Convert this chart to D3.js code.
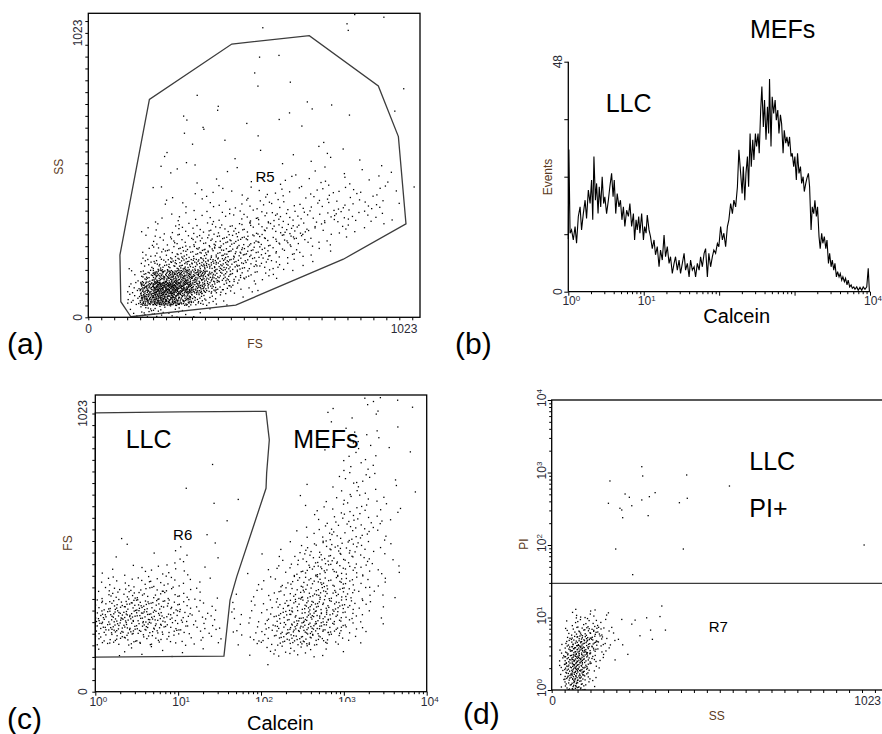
<!DOCTYPE html>
<html>
<head>
<meta charset="utf-8">
<script src="https://cdn.jsdelivr.net/npm/d3@7"></script>
<style>
body { margin: 0; background: #fff; }
svg { display: block; font-family: "Liberation Sans", Arial, sans-serif; }
</style>
</head>
<body>
<svg id="fig" width="882" height="734"></svg>
<script>
// flow cytometry figure, 4 panels (a)-(d)

var FULL = 1023;
var step = FULL / 24; // one tick of the 0..1023 channel axes

// (a) FS vs SS, event counts per bin: [first column, counts...], one row per tick of SS
var fsSsRows = [
    [3, [3, 12, 10, 6, 4, 2, 1]],
    [3, [10, 60, 80, 70, 45, 20, 8, 3, 1]],
    [3, [8, 50, 90, 95, 75, 45, 25, 12, 5, 3, 1]],
    [3, [3, 20, 45, 55, 55, 45, 30, 20, 12, 7, 4, 2, 1]],
    [3, [1, 8, 15, 18, 25, 25, 25, 22, 16, 10, 8, 5, 3, 1, 1]],
    [4, [4, 8, 10, 12, 14, 15, 16, 14, 12, 9, 6, 5, 3, 2, 1]],
    [4, [2, 5, 7, 6, 8, 10, 11, 11, 10, 9, 7, 8, 6, 3, 2, 1]],
    [4, [2, 3, 3, 4, 5, 6, 6, 8, 6, 7, 7, 7, 6, 4, 3, 3, 2, 1, 1]],
    [5, [2, 2, 2, 2, 3, 4, 3, 5, 6, 6, 5, 4, 4, 4, 5, 4, 3, 2, 1]],
    [5, [1, 1, 2, 2, 2, 3, 2, 3, 4, 3, 3, 2, 3, 4, 4, 3, 3, 3, 1]],
    [5, [1, 1, 0, 2, 2, 1, 2, 2, 3, 2, 2, 2, 3, 3, 2, 3, 2, 2, 1, 0, 1]],
    [5, [1, 0, 0, 1, 1, 1, 0, 1, 1, 1, 2, 1, 2, 2, 1, 1, 1, 2, 1]],
    [5, [1, 2, 0, 1, 0, 1, 1, 0, 0, 1, 0, 1, 1, 1, 1, 0, 1, 1, 1]],
    [5, [1, 1, 1, 0, 0, 0, 1, 0, 0, 0, 1, 0, 1, 2, 0, 1]],
    [8, [1, 0, 1, 0, 0, 1, 0, 0, 0, 1, 1, 1]],
    [7, [1, 1, 0, 0, 0, 0, 1]],
    [7, [2, 1, 0, 0, 0, 1, 0, 1, 0, 1]],
    [9, [1, 1, 0, 0, 0, 0, 1, 0, 1, 1, 0, 1, 0, 0, 1]],
    [8, [1, 0, 0, 0, 0, 0, 0, 0, 1]],
    [13, [1, 0, 1, 0, 0, 0, 0, 0, 0, 0, 0, 1]],
    [12, [1]],
    [13, [1]],
    [14, [1]],
    [0, []],
    [13, [1, 0, 0, 0, 0, 0, 1, 1]],
    [20, [1, 1, 1]]
];
var r5Gate = [[140, 2], [107, 56], [104, 224], [201, 784], [472, 983], [727, 1013],
    [954, 832], [1020, 650], [1045, 336], [839, 209], [485, 44]];

// (b) Calcein histogram: [channel 0..1023 over 4 decades, events]
var calceinHist = [
    [0, 11], [2, 29.7], [6, 12.2], [11, 12.9], [17, 10.8], [23, 13.6], [28, 10.1], [34, 15.7],
    [40, 17.7], [45, 12.9], [51, 16.3], [57, 19.1], [62, 15.3], [68, 21.2], [74, 18.4], [79, 23.3],
    [83, 15], [87, 28.2], [92, 19.1], [96, 22.6], [101, 16.3], [105, 21.9], [110, 17.7], [115, 24],
    [120, 18.4], [124, 19.8], [130, 16.3], [136, 19.1], [141, 21.9], [147, 24.7], [152, 19.8],
    [156, 23.3], [161, 16.3], [166, 20.5], [172, 17.7], [177, 19.1], [182, 15], [187, 17.7],
    [192, 13.6], [198, 17], [204, 15.7], [209, 18.4], [215, 13.6], [221, 16.3], [225, 10.8],
    [230, 15], [234, 12.9], [239, 15.7], [243, 12.2], [249, 16.3], [255, 10.8], [259, 13.6],
    [264, 12.2], [268, 16], [274, 12.9], [279, 11.5], [285, 9], [291, 10.8], [296, 7.7], [302, 9.4],
    [308, 5.2], [313, 8.7], [319, 6.6], [325, 11.8], [330, 7.3], [336, 9.4], [342, 5.9], [347, 7.3],
    [353, 3.8], [359, 5.9], [364, 7.3], [370, 4.5], [376, 6.6], [381, 3.8], [387, 5.9], [393, 8],
    [398, 4.5], [404, 5.9], [410, 3.1], [415, 6.6], [421, 4.5], [427, 5.2], [432, 3.1], [438, 5.9],
    [444, 4.5], [449, 7.3], [455, 5.2], [461, 8], [466, 9], [472, 3.1], [477, 8], [483, 5.2],
    [489, 7.3], [494, 8.7], [500, 8], [506, 10.1], [511, 9.4], [517, 13.6], [523, 10.8], [528, 12.2],
    [534, 9.4], [540, 13.6], [545, 15], [551, 18.4], [557, 16.3], [562, 19.1], [568, 17.7],
    [574, 21.9], [579, 29.6], [585, 24.7], [590, 20.5], [594, 26.1], [599, 19.1], [603, 24.7],
    [608, 28.2], [612, 21.9], [617, 33], [621, 26.1], [626, 31.7], [630, 27.5], [635, 33], [639, 30.3],
    [644, 33], [648, 28.9], [653, 37.9], [657, 42.8], [662, 34.4], [666, 40], [671, 31.7], [676, 38.6],
    [680, 33], [683, 44.4], [688, 30.3], [692, 40.7], [697, 37.2], [702, 40], [706, 35.8], [711, 37.9],
    [715, 33], [720, 36.9], [724, 35.1], [729, 28.9], [733, 33.7], [738, 31], [742, 32.3], [747, 30.3],
    [751, 32.3], [756, 28.2], [760, 28.9], [765, 26.1], [769, 28.2], [774, 23.3], [778, 28.9],
    [783, 24.7], [788, 26.1], [792, 22.6], [797, 24], [801, 20.9], [806, 22.6], [810, 23.7],
    [815, 24.7], [819, 21.9], [824, 12.9], [828, 17.7], [833, 16.3], [837, 19.1], [842, 15.7],
    [846, 17.7], [851, 11.5], [855, 9], [860, 12.2], [864, 10.1], [869, 11.5], [874, 9], [878, 10.8],
    [883, 5.9], [887, 8], [892, 5.2], [896, 6.6], [901, 4.5], [905, 5.9], [910, 3.1], [914, 4.2],
    [919, 3.1], [923, 3.8], [928, 2.4], [932, 3.1], [937, 2.1], [941, 2.8], [946, 1.4], [950, 2.4],
    [955, 1], [960, 1.4], [964, 0.7], [969, 1], [973, 0.5], [979, 1], [984, 0.3], [990, 0.9],
    [996, 0.3], [1001, 1], [1007, 0.5], [1013, 1], [1018, 4.9], [1022, 0]
];
var eventTicks = [0, 12, 24, 36, 48];
var histDecadeLabels = [0, 1, 4]; // 10^2 and 10^3 sit under the Calcein title

// (c) Calcein vs FS, counts per bin: columns are 1/6 decade, rows one FS tick
var calceinFsRows = [
    [0, []],
    [0, []],
    [12, [1]],
    [0, [1, 1, 2, 1, 2, 1, 1, 1, 0, 0, 0, 1, 3, 4, 5, 4, 2, 1]],
    [0, [8, 10, 9, 8, 7, 5, 4, 3, 2, 1, 2, 4, 6, 10, 14, 14, 10, 5, 2, 1]],
    [0, [14, 16, 16, 15, 13, 9, 7, 5, 3, 2, 2, 3, 6, 12, 16, 18, 16, 10, 5, 2, 1]],
    [0, [14, 18, 18, 17, 15, 10, 7, 5, 3, 1, 2, 3, 5, 10, 14, 16, 15, 11, 6, 3, 1]],
    [0, [8, 12, 14, 14, 12, 9, 6, 4, 2, 1, 1, 2, 4, 7, 11, 14, 14, 11, 7, 4, 1]],
    [0, [4, 7, 8, 8, 8, 6, 4, 2, 1, 0, 1, 2, 3, 5, 8, 11, 12, 10, 7, 4, 2, 1]],
    [0, [2, 3, 4, 5, 5, 5, 3, 1, 1, 0, 0, 1, 2, 4, 6, 9, 10, 9, 6, 4, 2, 1]],
    [0, [1, 1, 2, 2, 3, 3, 2, 1, 0, 0, 0, 1, 1, 3, 5, 8, 9, 8, 6, 4, 2, 1, 1]],
    [1, [1, 0, 0, 1, 1, 3, 0, 1, 0, 0, 0, 1, 2, 4, 6, 8, 8, 6, 4, 2, 1]],
    [2, [1, 0, 0, 1, 1, 0, 1, 0, 0, 0, 0, 1, 2, 4, 6, 7, 6, 4, 2, 1]],
    [1, [1, 0, 0, 0, 0, 0, 0, 1, 0, 0, 0, 0, 0, 1, 2, 4, 5, 5, 4, 2, 1]],
    [9, [1, 0, 0, 0, 0, 0, 1, 3, 4, 5, 4, 3, 1]],
    [15, [1, 2, 3, 4, 4, 2, 1, 1]],
    [8, [1, 0, 1, 0, 0, 0, 1, 1, 1, 2, 3, 3, 2, 1]],
    [6, [1, 0, 0, 0, 0, 0, 0, 0, 0, 1, 0, 2, 3, 2, 1, 1, 0, 1]],
    [17, [1, 3, 3, 1, 1]],
    [8, [1, 0, 0, 0, 0, 0, 0, 0, 0, 1, 2, 2, 1]],
    [16, [1, 0, 2, 2, 1, 0, 1]],
    [17, [1, 2, 2, 1, 1]],
    [18, [2, 1, 1, 1]],
    [17, [1, 1, 0, 1]],
    [16, [1, 1, 0, 1, 1, 0, 1]],
    [19, [3, 3, 2]]
];
var r6Gate = [[1, 1025], [10.5, 1029], [115, 1031], [122, 962], [126, 926], [117, 804],
    [115, 748], [51, 423], [42.3, 337], [35.7, 131], [6, 129], [1, 127]];

// (d) SS vs PI: dense core per bin (columns half an SS tick, rows 1/8 decade), plus single events
var ssPiRows = [
    [1, [1, 8, 14, 10, 3, 1]],
    [1, [2, 12, 18, 14, 6, 2]],
    [1, [4, 12, 18, 16, 9, 3, 1]],
    [1, [3, 12, 18, 18, 11, 5, 2, 1]],
    [1, [2, 9, 16, 18, 13, 8, 3, 2, 1]],
    [1, [1, 5, 10, 13, 12, 9, 6, 2, 1]],
    [2, [3, 5, 7, 8, 7, 5, 2, 1]],
    [2, [1, 3, 3, 4, 3, 2, 1]],
    [3, [3, 1, 1, 2]]
];
var ssPiSingles = [
    [192, 764], [297, 1202], [300, 895], [445, 924], [586, 651], [242, 505], [256, 455],
    [187, 376], [225, 321], [231, 304], [234, 238], [264, 348], [297, 418], [322, 464],
    [341, 527], [421, 383], [447, 441], [318, 254], [211, 88], [434, 88], [267, 39], [1030, 100],
    [143, 12.7], [181, 10.8], [187, 11.6], [231, 9.4], [275, 9.2], [264, 8.1], [313, 9.9],
    [357, 10.3], [363, 14.4], [375, 6.7], [326, 6.7], [332, 5.0], [291, 5.6], [198, 7.3],
    [234, 4.2], [220, 5.0], [209, 2.6], [251, 3.1]
];
var r7Cut = 29.6;

var decades = [0, 1, 2, 3, 4];

var svg = d3.select('#fig');
var small = 12, big = 25, tag = 30;
var ink = '#000', gateInk = '#3c3c3c', labelInk = '#2a2a35', titleInk = '#5a3a22';

svg.append('rect').attr('width', 882).attr('height', 734).attr('fill', '#fff');

// deterministic spread of a bin's events over the bin
function halton(i, b) {
    var f = 1, r = 0;
    while (i > 0) {
        f /= b;
        r += f * (i % b);
        i = Math.floor(i / b);
    }
    return r;
}

function binDots(rows, colVal, rowVal) {
    var pts = [], k = 0;
    rows.forEach(function(row, j) {
        var start = row[0];
        row[1].forEach(function(n, c) {
            for (var m = 0; m < n; m++) {
                k += 1;
                pts.push([colVal(start + c + halton(k, 2)), rowVal(j + halton(k, 3))]);
            }
        });
    });
    return pts;
}

function drawDots(g, pts, x, y, clipId) {
    g.append('g')
        .attr('clip-path', 'url(#' + clipId + ')')
        .selectAll('rect').data(pts)
        .enter().append('rect')
            .attr('x', d => x(d[0]) - 0.65)
            .attr('y', d => y(d[1]) - 0.65)
            .attr('width', 1.3)
            .attr('height', 1.3)
            .attr('fill', ink);
}

function addClip(id, x0, y0, x1, y1) {
    svg.append('clipPath').attr('id', id)
        .append('rect')
            .attr('x', x0).attr('y', y0)
            .attr('width', x1 - x0).attr('height', y1 - y0);
}

function frame(g, x0, y0, x1, y1) {
    g.append('rect')
        .attr('x', x0).attr('y', y0)
        .attr('width', x1 - x0).attr('height', y1 - y0)
        .attr('fill', 'none')
        .attr('stroke', ink)
        .attr('stroke-width', 1.3);
}

function tickAxis(g, axis, tx, ty) {
    var a = g.append('g')
        .attr('transform', 'translate(' + tx + ',' + ty + ')')
        .call(axis);
    a.select('.domain').remove();
    a.selectAll('line').attr('stroke', ink);
    return a;
}

function text(g, str, x, y, size, anchor, fill) {
    return g.append('text')
        .attr('x', x).attr('y', y)
        .attr('font-size', size)
        .attr('text-anchor', anchor || 'start')
        .attr('fill', fill || ink)
        .text(str);
}

function vtext(g, str, x, y, size, fill) {
    return g.append('text')
        .attr('transform', 'translate(' + x + ',' + y + ') rotate(-90)')
        .attr('font-size', size)
        .attr('text-anchor', 'middle')
        .attr('fill', fill || labelInk)
        .text(str);
}

function power(t, exp) {
    t.append('tspan').text('10');
    t.append('tspan').attr('dy', -4).attr('font-size', 8).text(exp);
}

function logLabelX(g, x, e, y) {
    var t = g.append('text')
        .attr('x', x(Math.pow(10, e)) + 3).attr('y', y)
        .attr('font-size', small)
        .attr('text-anchor', 'middle')
        .attr('fill', labelInk);
    power(t, e);
}

function logLabelY(g, y, e, x) {
    var t = g.append('text')
        .attr('transform', 'translate(' + x + ',' + (y(Math.pow(10, e)) - 2) + ') rotate(-90)')
        .attr('font-size', small)
        .attr('text-anchor', 'middle')
        .attr('fill', labelInk);
    power(t, e);
}

var channelTicks = d3.range(26).map(i => i * step);

// ---- (a) ----
(function() {
    var g = svg.append('g');
    var x = d3.scaleLinear().domain([0, FULL]).range([88.3, 399.3]);
    var y = d3.scaleLinear().domain([0, FULL]).range([317.3, 32.9]);
    addClip('clipA', 88.3, 13.3, 420, 317.3);

    tickAxis(g, d3.axisBottom(x).tickValues(channelTicks).tickSize(3).tickFormat(''), 0, 317.3);
    tickAxis(g, d3.axisLeft(y).tickValues(channelTicks).tickSize(3).tickFormat(''), 88.3, 0);

    drawDots(g, binDots(fsSsRows, c => c * step, r => r * step), x, y, 'clipA');

    g.append('path')
        .datum(r5Gate)
        .attr('d', d3.line().x(d => x(d[0])).y(d => y(d[1])).curve(d3.curveLinearClosed))
        .attr('fill', 'none')
        .attr('stroke', gateInk)
        .attr('stroke-width', 1.3);

    frame(g, 88.3, 13.3, 420, 317.3);

    text(g, '0', 88.7, 333, small, 'middle', labelInk);
    text(g, '1023', 404, 333, small, 'middle', labelInk);
    text(g, 'FS', 255, 348, small, 'middle', titleInk);
    vtext(g, '0', 81.5, 317.3, small);
    vtext(g, '1023', 81.5, 33, small);
    vtext(g, 'SS', 63, 166.7, small, titleInk);
    text(g, 'R5', 265, 182, 15, 'middle');
    text(g, '(a)', 7, 354, tag);
})();

// ---- (b) ----
(function() {
    var g = svg.append('g');
    var x = d3.scaleLog().domain([1, 1e4]).range([568.3, 870]);
    var y = d3.scaleLinear().domain([0, 48]).range([291.7, 61.7]);
    var chan = ch => Math.pow(10, ch / 256);

    var xa = tickAxis(g, d3.axisBottom(x).tickValues(x.ticks()).tickSize(3).tickFormat(''), 0, 291.7);
    xa.selectAll('.tick line').attr('y2', d => decades.indexOf(Math.log10(d)) >= 0 ? 4 : 2.5);
    tickAxis(g, d3.axisLeft(y).tickValues(eventTicks).tickSize(4).tickFormat(''), 568.3, 0);

    g.append('line').attr('x1', 568.3).attr('x2', 870).attr('y1', 291.7).attr('y2', 291.7)
        .attr('stroke', ink).attr('stroke-width', 1.3);
    g.append('line').attr('x1', 568.3).attr('x2', 568.3).attr('y1', 61.7).attr('y2', 291.7)
        .attr('stroke', ink).attr('stroke-width', 1.3);

    g.append('path')
        .datum(calceinHist)
        .attr('d', d3.line().x(d => x(chan(d[0]))).y(d => y(d[1])))
        .attr('fill', 'none')
        .attr('stroke', ink)
        .attr('stroke-width', 1.1);

    histDecadeLabels.forEach(e => logLabelX(g, x, e, 305));
    text(g, 'Calcein', 736.7, 322.7, 20, 'middle');

    vtext(g, '0', 561.5, 291.7, small);
    vtext(g, '48', 561.5, 61.7, small);
    vtext(g, 'Events', 551.5, 177, small, titleInk);
    text(g, 'LLC', 605.7, 111.7, big);
    text(g, 'MEFs', 750, 38.3, big);
    text(g, '(b)', 455, 354, tag);
})();

// ---- (c) ----
(function() {
    var g = svg.append('g');
    var x = d3.scaleLog().domain([1, 1e4]).range([95.3, 426.7]);
    var y = d3.scaleLinear().domain([0, FULL]).range([691.7, 413.5]);
    addClip('clipC', 95.3, 395, 426.7, 691.7);

    var xa = tickAxis(g, d3.axisBottom(x).tickValues(x.ticks()).tickSize(3).tickFormat(''), 0, 691.7);
    xa.selectAll('.tick line').attr('y2', d => decades.indexOf(Math.log10(d)) >= 0 ? 4 : 2.5);
    tickAxis(g, d3.axisLeft(y).tickValues(channelTicks).tickSize(3).tickFormat(''), 95.3, 0);

    drawDots(g, binDots(calceinFsRows, c => Math.pow(10, c / 6), r => r * step), x, y, 'clipC');

    g.append('path')
        .datum(r6Gate)
        .attr('d', d3.line().x(d => x(d[0])).y(d => y(d[1])).curve(d3.curveLinearClosed))
        .attr('fill', 'none')
        .attr('stroke', gateInk)
        .attr('stroke-width', 1.3);

    frame(g, 95.3, 395, 426.7, 691.7);

    decades.forEach(e => logLabelX(g, x, e, 706));
    // the Calcein title box hides the lower half of the middle labels
    g.append('rect').attr('x', 233).attr('y', 702).attr('width', 130).attr('height', 32).attr('fill', '#fff');
    text(g, 'Calcein', 280.3, 730, 20, 'middle');

    vtext(g, '0', 87, 691.7, small);
    vtext(g, '1023', 87, 413.5, small);
    vtext(g, 'FS', 71.5, 543, small, titleInk);
    text(g, 'LLC', 125.7, 448.3, big);
    text(g, 'MEFs', 293.3, 448.3, big);
    text(g, 'R6', 182.7, 539.5, 15, 'middle');
    text(g, '(c)', 7, 729, tag);
})();

// ---- (d) ----
(function() {
    var g = svg.append('g');
    var x = d3.scaleLinear().domain([0, FULL]).range([551.7, 862]);
    var y = d3.scaleLog().domain([1, 1e4]).range([690, 400]);
    addClip('clipD', 551.7, 400, 900, 690);

    tickAxis(g, d3.axisBottom(x).tickValues(channelTicks).tickSize(3).tickFormat(''), 0, 690);
    var ya = tickAxis(g, d3.axisLeft(y).tickValues(y.ticks()).tickSize(3).tickFormat(''), 551.7, 0);
    ya.selectAll('.tick line').attr('x2', d => decades.indexOf(Math.log10(d)) >= 0 ? -4 : -2.5);

    var pts = binDots(ssPiRows, c => c * step / 2, r => Math.pow(10, r / 8)).concat(ssPiSingles);
    drawDots(g, pts, x, y, 'clipD');

    g.append('line')
        .attr('x1', x(0)).attr('x2', 900)
        .attr('y1', y(r7Cut)).attr('y2', y(r7Cut))
        .attr('stroke', gateInk)
        .attr('stroke-width', 1.3);

    frame(g, 551.7, 400, 900, 690);

    text(g, '0', 552.7, 705, small, 'middle', labelInk);
    text(g, '1023', 867.7, 705, small, 'middle', labelInk);
    text(g, 'SS', 716.7, 720, small, 'middle', titleInk);
    decades.forEach(e => logLabelY(g, y, e, 546));
    vtext(g, 'PI', 527.5, 544, small, titleInk);
    text(g, 'LLC', 749.3, 470, big);
    text(g, 'PI+', 749.3, 516.7, big);
    text(g, 'R7', 718.3, 632, 15, 'middle');
    text(g, '(d)', 463, 724, tag);
})();
</script>
</body>
</html>
